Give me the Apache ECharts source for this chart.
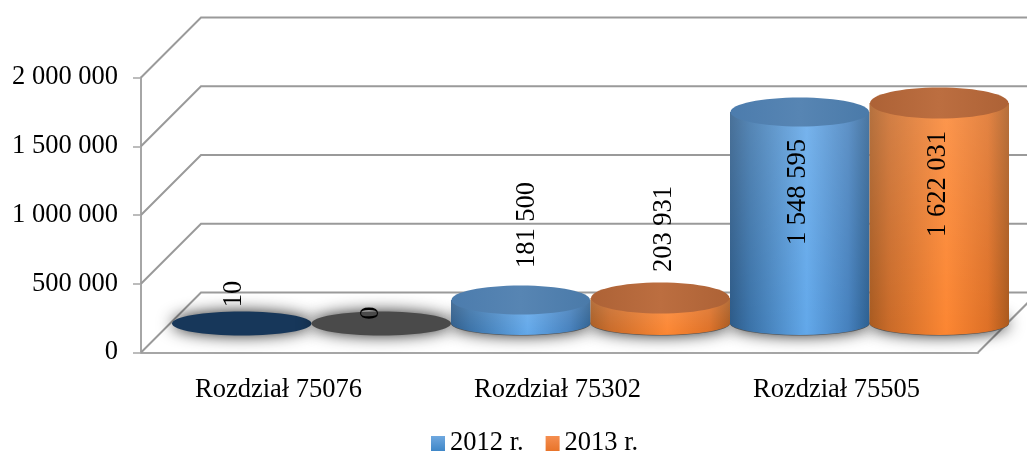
<!DOCTYPE html>
<html><head><meta charset="utf-8">
<style>html,body{margin:0;padding:0;background:#fff}#c{width:1027px;height:453px}</style>
<script src="https://cdn.jsdelivr.net/npm/echarts@6/dist/echarts.min.js"></script>
</head><body><div id="c"></div>
<script>
const categories = ['Rozdział 75076', 'Rozdział 75302', 'Rozdział 75505'];
const values2012 = [10, 181500, 1548595];
const values2013 = [0, 203931, 1622031];
const tickValues = [0, 500000, 1000000, 1500000, 2000000];
const seriesNames = ['2012 r.', '2013 r.'];

const FONT = '"Liberation Serif","Times New Roman",serif';
const FS = 26.5;
const DEPTH_X = 60, DEPTH_Y = 60;
const fmt = v => String(v).replace(/\B(?=(\d{3})+$)/g, ' ');
const lg = (x0, y0, x1, y1, stops) => ({type:'linear', x:x0, y:y0, x2:x1, y2:y1,
  colorStops: stops.map(s => ({offset:s[0], color:s[1]}))});

const looks = [
  { side: -1, topRy: 14.5, topNudge: 2, flat: '#17375a',
    body: [[0,'#2c5a88'],[0.14,'#3a72a8'],[0.55,'#62a8ea'],[0.85,'#4580bd'],[1,'#2c5f90']],
    top: [[0,'#4c7cad'],[0.5,'#5785b3'],[1,'#4a7aa9']],
    legend: [[0,'#6fa8df'],[1,'#3f87c8']] },
  { side: 1, topRy: 15.5, topNudge: 3, flat: '#4a4a4a',
    body: [[0,'#a85a20'],[0.14,'#c96a28'],[0.55,'#fc8632'],[0.85,'#de7026'],[1,'#a9581c']],
    top: [[0,'#ad6236'],[0.5,'#bc6e40'],[1,'#ad6236']],
    legend: [[0,'#f58e50'],[1,'#e8742a']] }
];
// label placement: distance above the top face, and sideways from the cylinder axis
const labelLift = [[29, 73, -82], [10, 66, -84]];
const labelSide = [[-8, 6, -2], [-10, 4, -1]];

function cylinder(s) {
  const look = looks[s];
  return function (params, api) {
    const cat = api.value(0), v = api.value(1);
    const w = api.size([1, 0])[0] / 2, rx = w / 2;
    const pBase = api.coord([cat, 0]), pTop = api.coord([cat, v]);
    const cx = pBase[0] + DEPTH_X / 2 + 1 + look.side * rx;
    const flat = v < 1000;
    const baseY = pBase[1] - 29.5, topY = pTop[1] - 29.5 + (flat ? 0 : look.topNudge);
    const x0 = cx - rx, x1 = cx + rx, baseRy = 12;
    const kids = [];
    kids.push({type:'ellipse', shape:{cx, cy:baseY + 0.5, rx, ry:baseRy}, z2:1,
      style:{fill: flat ? look.flat : '#555', shadowBlur:16, shadowColor:'rgba(0,0,0,0.85)'}});
    if (!flat) {
      const d = `M ${x0} ${topY} L ${x0} ${baseY} A ${rx} ${baseRy} 0 0 0 ${x1} ${baseY} L ${x1} ${topY} Z`;
      kids.push({type:'path', shape:{pathData:d}, z2:2, style:{fill: lg(0,0,1,0,look.body)}});
      kids.push({type:'path', shape:{pathData:d}, z2:3, style:{fill: lg(0,0,0,1,[[0,'rgba(255,255,255,0.14)'],[1,'rgba(255,255,255,0)']])}});
      kids.push({type:'ellipse', shape:{cx, cy:topY, rx:rx - 0.5, ry:look.topRy}, z2:4,
        style:{fill: lg(0,0,1,0,look.top)}});
    }
    kids.push({type:'text', z2:50, x: cx + labelSide[s][cat],
      y: baseY - (pBase[1] - pTop[1]) - labelLift[s][cat], rotation: Math.PI / 2,
      style:{text: fmt(v), font:`${FS}px ${FONT}`, fill:'#000', align:'center', verticalAlign:'middle'}});
    return {type:'group', children:kids};
  };
}

function walls(params, api) {
  const cs = params.coordSys;
  const y = api.coord([0, api.value(1)])[1];
  const L = cs.x, R = cs.x + cs.width;
  const kids = [];
  const ln = {stroke:'#9a9a9a', lineWidth:2, fill:null};
  kids.push({type:'polyline', shape:{points:[[L, y],[L + DEPTH_X, y - DEPTH_Y],[R + DEPTH_X, y - DEPTH_Y]]}, style:ln});
  if (api.value(1) === 0) kids.push({type:'line', shape:{x1:R, y1:y, x2:R + DEPTH_X, y2:y - DEPTH_Y}, style:ln});
  return {type:'group', children:kids};
}

const chart = echarts.init(document.getElementById('c'), null, {renderer:'canvas'});
chart.setOption({
  animation:false,
  backgroundColor:'#fff',
  legend:{
    data:seriesNames, left:426, top:425, itemWidth:14, itemHeight:15, itemGap:22, icon:'rect',
    textStyle:{fontFamily:FONT, fontSize:FS, color:'#000', padding:[0,0,0,0]}
  },
  grid:{left:141, right:49, top:77.5, height:275, containLabel:false},
  xAxis:{type:'category', data:categories,
    axisLine:{lineStyle:{color:'#a6a6a6', width:2}},
    axisTick:{length:8, lineStyle:{color:'#a6a6a6', width:1.5}},
    axisLabel:{fontFamily:FONT, fontSize:FS, color:'#000', margin:24, interval:0, padding:[0,4,0,0]},
    splitLine:{show:false}},
  yAxis:{type:'value', min:0, max:2000000, interval:500000,
    axisLine:{show:true, lineStyle:{color:'#a6a6a6', width:2}},
    axisTick:{show:true, length:8, lineStyle:{color:'#a6a6a6', width:1.5}},
    axisLabel:{fontFamily:FONT, fontSize:FS, color:'#000', margin:23, formatter:fmt, padding:[4,0,0,0]},
    splitLine:{show:false}},
  series:[
    {type:'custom', name:'walls', z:1, silent:true, clip:false, renderItem:walls,
      data:tickValues.map(v => [0, v])},
    {type:'custom', name:seriesNames[0], z:3, clip:false, renderItem:cylinder(0),
      itemStyle:{color:lg(0,0,0,1,looks[0].legend)},
      data:values2012.map((v,i) => [i, v])},
    {type:'custom', name:seriesNames[1], z:3, clip:false, renderItem:cylinder(1),
      itemStyle:{color:lg(0,0,0,1,looks[1].legend)},
      data:values2013.map((v,i) => [i, v])}
  ]
});
</script></body></html>
